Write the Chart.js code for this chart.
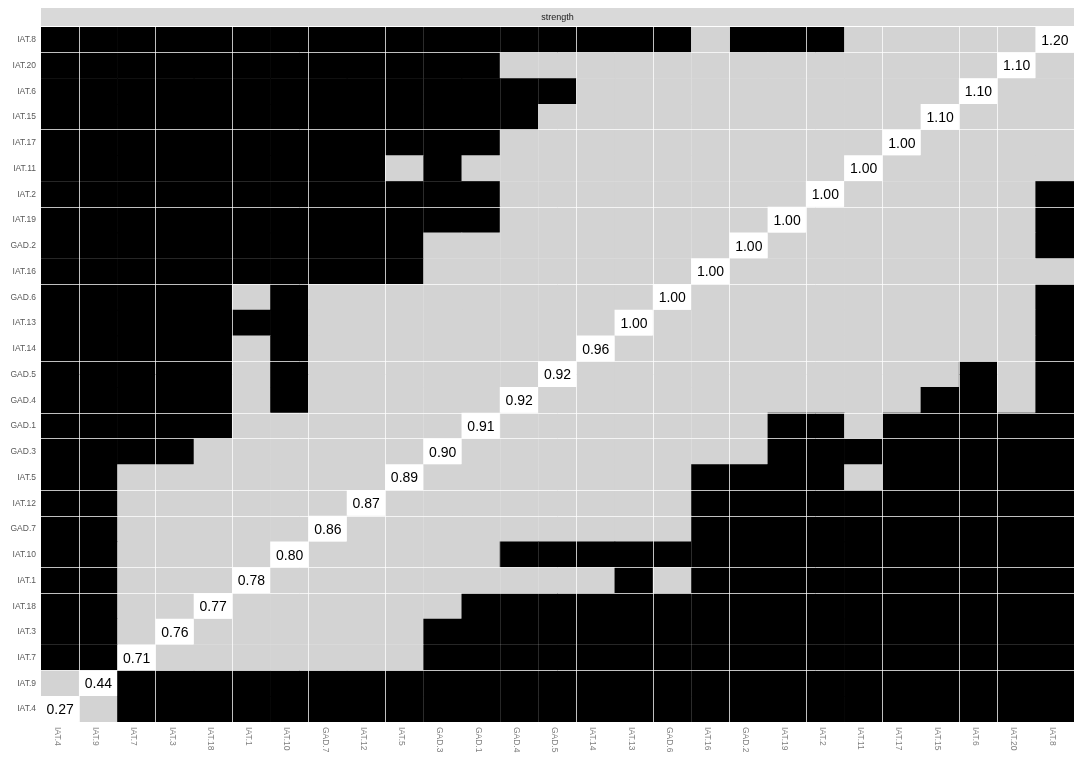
<!DOCTYPE html>
<html>
<head>
<meta charset="utf-8">
<script src="https://cdn.jsdelivr.net/npm/chart.js@4.4.1/dist/chart.umd.min.js"></script>
<style>
body{margin:0;background:#fff;}
#wrap{width:1084px;height:762px;position:relative;}
</style>
</head>
<body>
<div id="wrap"><canvas id="chart-strength"></canvas></div>
<script>
// nodes sorted by strength: bottom -> top on y, left -> right on x
const nodes = ['IAT.4','IAT.9','IAT.7','IAT.3','IAT.18','IAT.1','IAT.10','GAD.7','IAT.12','IAT.5',
  'GAD.3','GAD.1','GAD.4','GAD.5','IAT.14','IAT.13','GAD.6','IAT.16','GAD.2','IAT.19',
  'IAT.2','IAT.11','IAT.17','IAT.15','IAT.6','IAT.20','IAT.8'];
const strength = [0.27,0.44,0.71,0.76,0.77,0.78,0.80,0.86,0.87,0.89,
  0.90,0.91,0.92,0.92,0.96,1.00,1.00,1.00,1.00,1.00,
  1.00,1.00,1.00,1.10,1.10,1.10,1.20];
// difference test, one row per node (same order as nodes)
// '#' = significantly different, '.' = not different, 'o' = node itself
const diffTest = [
  'o.#########################', // IAT.4
  '.o#########################', // IAT.9
  '##o.......#################', // IAT.7
  '##.o......#################', // IAT.3
  '##..o......################', // IAT.18
  '##...o.........#.##########', // IAT.1
  '##....o.....###############', // IAT.10
  '##.....o.........##########', // GAD.7
  '##......o........##########', // IAT.12
  '##.......o.......####.#####', // IAT.5
  '####......o........########', // GAD.3
  '#####......o.......##.#####', // GAD.1
  '#####.#.....o..........##.#', // GAD.4
  '#####.#......o..........#.#', // GAD.5
  '#####.#.......o...........#', // IAT.14
  '#######........o..........#', // IAT.13
  '#####.#.........o.........#', // GAD.6
  '##########.......o.........', // IAT.16
  '##########........o.......#', // GAD.2
  '############.......o......#', // IAT.19
  '############........o.....#', // IAT.2
  '#########.#..........o.....', // IAT.11
  '############..........o....', // IAT.17
  '#############..........o...', // IAT.15
  '##############..........o..', // IAT.6
  '############.............o.', // IAT.20
  '#################.###.....o'  // IAT.8
];
const stripTitle = 'strength';

// grid lines in the picture are uneven: some bright, some faint
const brightX = [1,3,5,7,9,14,16,18,20,22,24,25];
const faintX = [10,12,13,17];
const brightY = [1,4,7,10,13,15,16,18,19,21,22,25]; // counted from top
const faintY = [6,9,24];
function lineCol(k, bright, faint){
  if (bright.includes(k)) return 'rgba(255,255,255,0.75)';
  if (faint.includes(k)) return 'rgba(255,255,255,0.15)';
  return 'rgba(0,0,0,0)';
}

const colorOf = {'#':'#000000', '.':'#d3d3d3', 'o':'#ffffff'};
const n = nodes.length;

const datasets = diffTest.map((row, i) => ({
  label: nodes[i],
  data: nodes.map(() => 1),
  backgroundColor: row.split('').map(c => colorOf[c]),
  borderWidth: 0,
  barPercentage: 1,
  categoryPercentage: 1
}));

const cellText = {
  id: 'cellText',
  afterDraw(chart){
    const ctx = chart.ctx, area = chart.chartArea, xs = chart.scales.x;
    ctx.save();
    // diagonal cells stay white, lines don't cross them
    ctx.fillStyle = '#ffffff';
    strength.forEach((v, i) => {
      const el = chart.getDatasetMeta(i).data[i];
      ctx.fillRect(el.x - el.width / 2 + 0.5, el.y + 0.5, el.width - 1, el.base - el.y - 1);
    });
    // facet strip
    ctx.fillStyle = '#d9d9d9';
    ctx.fillRect(area.left, 8, area.right - area.left, 18);
    ctx.fillStyle = '#1a1a1a';
    ctx.font = '9px "Liberation Sans", Arial, sans-serif';
    ctx.textAlign = 'center';
    ctx.textBaseline = 'middle';
    ctx.fillText(stripTitle, (area.left + area.right) / 2, 17.5);
    // strength values on the diagonal
    ctx.font = '14px "Liberation Sans", Arial, sans-serif';
    ctx.fillStyle = '#000';
    strength.forEach((v, i) => {
      const el = chart.getDatasetMeta(i).data[i];
      ctx.fillText(v.toFixed(2), el.x, (el.y + el.base) / 2 + 1);
    });
    // x labels, rotated clockwise
    ctx.font = '8.5px "Liberation Sans", Arial, sans-serif';
    ctx.fillStyle = '#808080';
    ctx.textAlign = 'left';
    nodes.forEach((name, j) => {
      const x = xs.getPixelForValue(j);
      ctx.save();
      ctx.translate(x - 3, area.bottom + 5);
      ctx.rotate(Math.PI / 2);
      ctx.fillText(name, 0, 0);
      ctx.restore();
    });
    ctx.restore();
  }
};

const ctxStrength = document.getElementById('chart-strength').getContext('2d');
const chartStrength = new Chart(ctxStrength, {
  type: 'bar',
  data: { labels: nodes, datasets: datasets },
  options: {
    responsive: true,
    maintainAspectRatio: false,
    animation: false,
    layout: { padding: { left: 0, right: 10, top: 27, bottom: 40 } },
    plugins: { legend: { display: false }, tooltip: { enabled: false } },
    scales: {
      x: {
        stacked: true,
        offset: true,
        ticks: { display: false },
        border: { display: false },
        grid: {
          z: 1,
          offset: true,
          drawTicks: false,
          lineWidth: 1,
          color: (c) => lineCol(c.index, brightX, faintX)
        },
        afterFit(scale){ scale.height = 0; }
      },
      y: {
        stacked: true,
        min: 0,
        max: n,
        border: { display: false },
        grid: { display: false, drawTicks: false },
        ticks: {
          color: '#595959',
          padding: 5,
          font: { family: '"Liberation Sans", Arial, sans-serif', size: 8.5 },
          callback: (value) => nodes[Math.floor(value)]
        },
        afterBuildTicks(scale){
          scale.ticks = nodes.map((_, i) => ({ value: i + 0.5 }));
        },
        afterFit(scale){ scale.width = 41; }
      },
      yGrid: {
        type: 'linear',
        position: 'right',
        min: 0,
        max: n,
        ticks: { display: false, stepSize: 1 },
        border: { display: false },
        grid: {
          z: 1,
          drawTicks: false,
          lineWidth: 1,
          color: (c) => c.tick ? lineCol(n - c.tick.value, brightY, faintY) : 'rgba(0,0,0,0)'
        },
        afterBuildTicks(scale){
          scale.ticks = Array.from({ length: n + 1 }, (_, i) => ({ value: i }));
        },
        afterFit(scale){ scale.width = 0; }
      }
    }
  },
  plugins: [cellText]
});
</script>
</body>
</html>
